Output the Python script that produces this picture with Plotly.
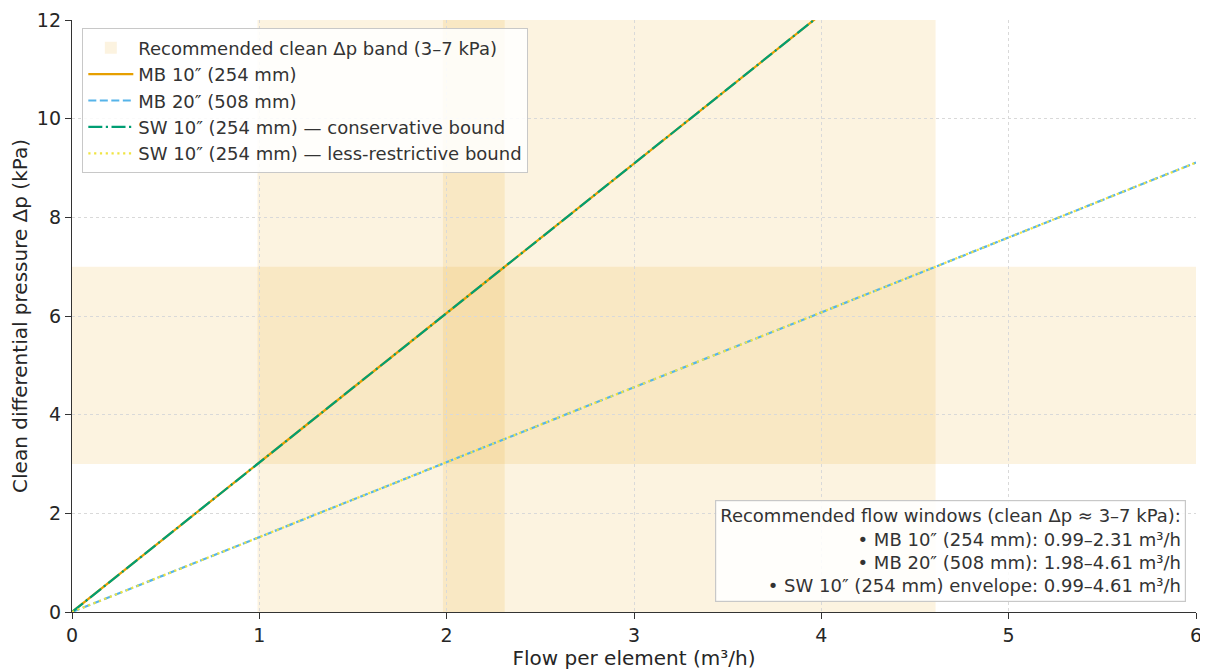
import plotly.graph_objects as go

# Data
flow = [0.0, 6.0]                       # m³/h
dp_mb10 = [0.0, 18.18]                  # kPa (slope ≈ 3.03 kPa per m³/h)
dp_mb20 = [0.0, 9.11]                   # kPa (slope ≈ 1.52 kPa per m³/h)
dp_sw_cons = [0.0, 18.18]
dp_sw_less = [0.0, 9.11]
band_dp = [3.0, 7.0]
win_mb10 = [0.99, 2.31]
win_mb20 = [1.98, 4.61]
x_range = [0, 6]
y_range = [0, 12]

FONT = "DejaVu Sans"
band_fill = "rgba(230,159,0,0.12)"
LW = 2.2

fig = go.Figure()

fig.add_trace(go.Scatter(x=flow, y=dp_mb10, mode="lines", name="MB 10″ (254 mm)",
                         line=dict(color="#E69F00", width=LW, dash="solid")))
fig.add_trace(go.Scatter(x=flow, y=dp_mb20, mode="lines", name="MB 20″ (508 mm)",
                         line=dict(color="#56B4E9", width=LW, dash="8px,3.5px")))
fig.add_trace(go.Scatter(x=flow, y=dp_sw_cons, mode="lines",
                         name="SW 10″ (254 mm) — conservative bound",
                         line=dict(color="#009E73", width=LW, dash="14px,3.5px,2.2px,3.5px")))
fig.add_trace(go.Scatter(x=flow, y=dp_sw_less, mode="lines",
                         name="SW 10″ (254 mm) — less-restrictive bound",
                         line=dict(color="#F0E442", width=LW, dash="2.2px,3.6px")))

# Horizontal Δp band
fig.add_shape(type="rect", xref="x", yref="y", x0=x_range[0], x1=x_range[1],
              y0=band_dp[0], y1=band_dp[1], fillcolor=band_fill, line_width=0,
              layer="below", showlegend=True, legendrank=1,
              name="Recommended clean Δp band (3–7 kPa)")
# Vertical flow windows
for w in (win_mb10, win_mb20):
    fig.add_shape(type="rect", xref="x", yref="y", x0=w[0], x1=w[1],
                  y0=y_range[0], y1=y_range[1], fillcolor=band_fill, line_width=0,
                  layer="below")

note = ("Recommended flow windows (clean Δp ≈ 3–7 kPa):<br>"
        f"• MB 10″ (254 mm): {win_mb10[0]:.2f}–{win_mb10[1]:.2f} m³/h<br>"
        f"• MB 20″ (508 mm): {win_mb20[0]:.2f}–{win_mb20[1]:.2f} m³/h<br>"
        f"• SW 10″ (254 mm) envelope: {win_mb10[0]:.2f}–{win_mb20[1]:.2f} m³/h")
fig.add_annotation(xref="paper", yref="paper", x=0.9915, y=0.017,
                   xanchor="right", yanchor="bottom", text=note, align="right",
                   showarrow=False, font=dict(family=FONT, size=18, color="#333"),
                   bgcolor="rgba(255,255,255,0.85)", bordercolor="#c8c8c8",
                   borderwidth=1.2, borderpad=4)

axis_common = dict(showline=True, linecolor="#333", linewidth=1.3, ticks="outside",
                   ticklen=6, tickcolor="#333", mirror=False, zeroline=False,
                   showgrid=True, gridcolor="#d9d9d9", griddash="dot", gridwidth=1,
                   automargin=False,
                   tickfont=dict(family=FONT, size=19, color="#262626"))

# The page body adds an 8 px offset, so the figure is sized to fit the window.
fig.update_layout(
    width=1200, height=662,
    margin=dict(l=64, r=12, t=12, b=58),
    plot_bgcolor="white", paper_bgcolor="white",
    font=dict(family=FONT, color="#262626"),
    xaxis=dict(range=x_range, dtick=1, tick0=0,
               title=dict(text="Flow per element (m³/h)", font=dict(family=FONT, size=20),
                          standoff=6),
               **axis_common),
    yaxis=dict(range=y_range, dtick=2, tick0=0,
               title=dict(text="Clean differential pressure Δp (kPa)",
                          font=dict(family=FONT, size=20), standoff=12),
               **axis_common),
    legend=dict(x=0.009, y=0.986, xanchor="left", yanchor="top",
                bgcolor="rgba(255,255,255,0.85)", bordercolor="#c8c8c8", borderwidth=1.2,
                font=dict(family=FONT, size=18, color="#333"), tracegroupgap=0,
                itemwidth=45),
    showlegend=True,
)

fig.write_html("out.html")
